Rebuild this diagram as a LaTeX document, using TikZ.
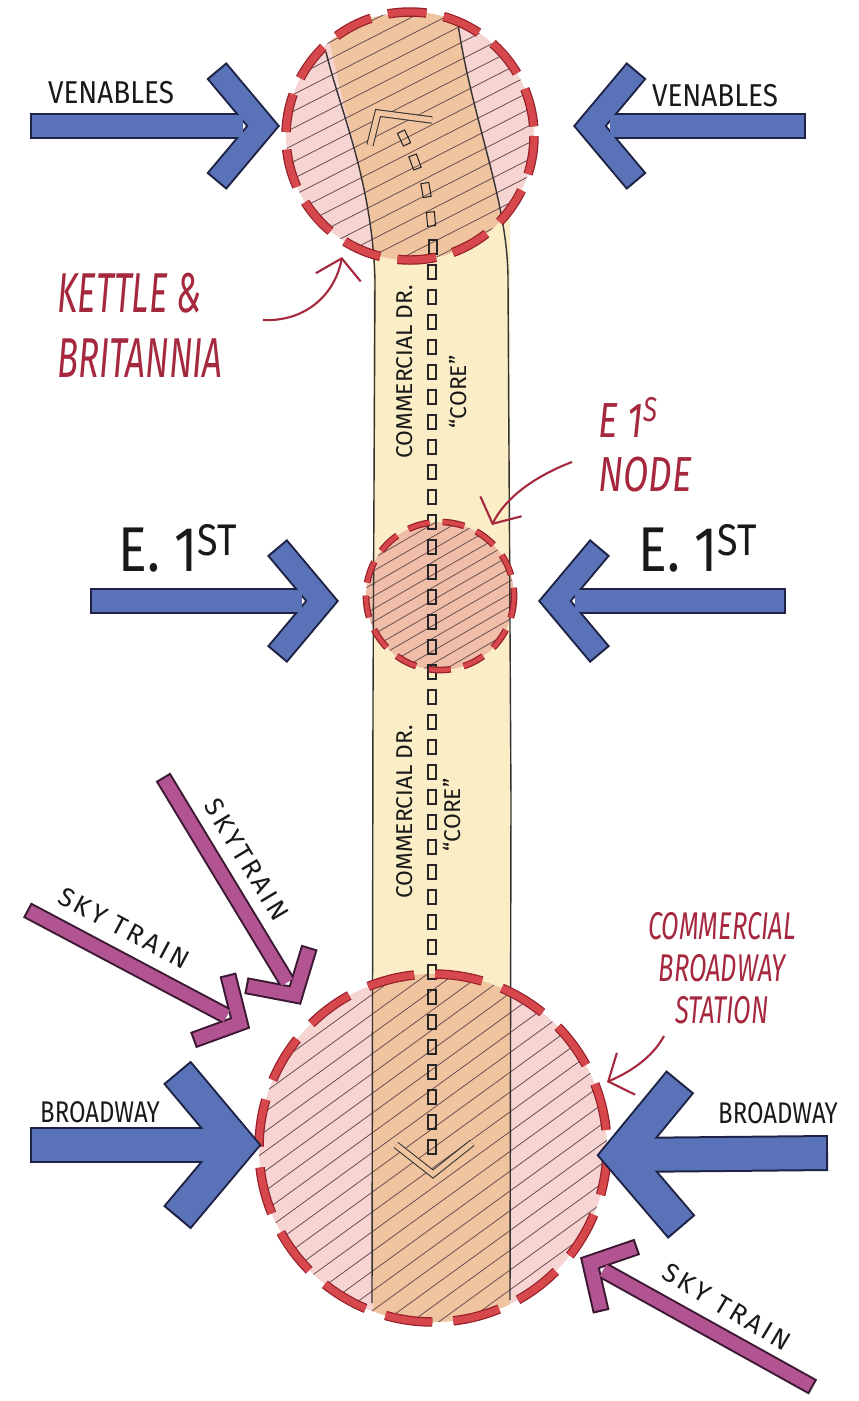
\documentclass[tikz,border=0pt]{standalone}
\usepackage{fontspec}
\setmainfont{Fira Sans}
\usepackage{graphicx}
\usetikzlibrary{arrows.meta,calc}

\definecolor{roadblue}{RGB}{90,114,184}
\definecolor{roadline}{RGB}{30,35,70}
\definecolor{trainpink}{RGB}{178,84,145}
\definecolor{trainline}{RGB}{60,25,50}
\definecolor{dashred}{RGB}{214,72,76}
\definecolor{dashdark}{RGB}{150,32,42}
\definecolor{notered}{RGB}{165,40,62}
\definecolor{zonepink}{RGB}{245,212,210}
\definecolor{zoneorange}{RGB}{241,196,160}
\definecolor{zonemid}{RGB}{240,190,168}
\definecolor{streetyellow}{RGB}{251,237,198}
\definecolor{hatchgray}{RGB}{105,78,80}

\newcommand{\squeeze}[2]{\scalebox{#1}[1]{#2}}

\tikzset{
  hatch/.style={draw=hatchgray, line width=0.45pt},
  edgeline/.style={draw=black!80, line width=0.8pt},
  ticket/.style={draw=black!85, line width=0.6pt},
  chevron/.style={draw=black!80, line width=0.6pt, double=zoneorange, double distance=3pt, line join=miter},
  pointer/.style={notered, line width=1.2pt, -{Straight Barb[length=11pt,width=26pt,line width=1.2pt]}},
  roadlabel/.style={inner sep=0pt, text=black!90},
  trainlabel/.style={inner sep=0pt, text=black!90, font=\addfontfeature{LetterSpace=12}\fontsize{15}{18}\selectfont},
  notelabel/.style={inner sep=0pt, text=notered},
}

\begin{document}
\begin{tikzpicture}[x=0.02cm,y=-0.02cm]
  \useasboundingbox (0,0) rectangle (859,1401);
  % zone centres
  \coordinate (kettle) at (410,136);
  \coordinate (first) at (440,596);
  \coordinate (station) at (433,1148);

  % Commercial Drive
  \fill[streetyellow] (373,255) -- (373,1160) -- (511,1160) -- (510,205) -- cycle;

  % Kettle & Britannia
  \fill[zonepink] (kettle) circle (124);
  \begin{scope}
    \clip (kettle) circle (124);
    \fill[zoneorange] (326,20) .. controls (340,110) and (372,180) .. (375,280) -- (508,280) .. controls (508,200) and (470,120) .. (456,10) -- cycle;
    \begin{scope}[shift={(kettle)},rotate=27]
      \foreach \k in {-9,...,9} \draw[hatch] (-150,\k*15) -- (150,\k*15);
    \end{scope}
  \end{scope}

  % E 1st node
  \fill[zonemid] (first) circle (74);
  \begin{scope}
    \clip (first) circle (74);
    \begin{scope}[shift={(first)},rotate=30]
      \foreach \k in {-7,...,7} \draw[hatch] (-100,\k*11) -- (100,\k*11);
    \end{scope}
  \end{scope}

  % Commercial-Broadway station
  \fill[zonepink] (station) circle (174);
  \begin{scope}
    \clip (station) circle (174);
    \fill[zoneorange] (373,960) rectangle (510,1330);
    \begin{scope}[shift={(station)},rotate=36]
      \foreach \k in {-12,...,12} \draw[hatch] (-200,\k*16) -- (200,\k*16);
    \end{scope}
  \end{scope}

  % street edges
  \draw[edgeline] (326,52) .. controls (340,110) and (372,180) .. (375,280) -- (373,700) -- (372,1303);
  \draw[edgeline] (458,24) .. controls (472,120) and (508,200) .. (508,280) -- (511,800) -- (510,1300);

  % centre line
  \foreach \y in {272,297,...,1147}
    \draw[ticket] (428,\y-7) rectangle (436,\y+7);
  \foreach \x/\y/\r in {404/138/25,415/162/20,426/190/10,431/219/5,433/247/0}
    \draw[ticket, rotate around={\r:(\x,\y)}] (\x-4,\y-7) rectangle (\x+4,\y+7);
  \draw[chevron] (370,145) -- (378,113) -- (432,120);
  \draw[chevron] (396,1145) -- (433,1174) -- (472,1143);

  % zone outlines
  \foreach \c/\r/\on/\off/\w in {kettle/124/22/10/5.4, first/74/12.5/7.5/3.8, station/174/27/12/5.4}{
    \draw[dashdark, line width=\w pt, dash pattern=on \on pt off \off pt] (\c) circle (\r);
    \draw[dashred, line width=\w pt-1.4pt, dash pattern=on \on pt off \off pt] (\c) circle (\r);
  }

  % street arrows
  \coordinate (venWt) at (30,126);   \coordinate (venWh) at (263,126);
  \coordinate (venEt) at (806,126);  \coordinate (venEh) at (590,126);
  \coordinate (firWt) at (90,601);   \coordinate (firWh) at (322,601);
  \coordinate (firEt) at (786,601);  \coordinate (firEh) at (555,601);
  \coordinate (broWt) at (30,1145);  \coordinate (broWh) at (238,1145);
  \coordinate (broEt) at (828,1153); \coordinate (broEh) at (620,1155);
  \foreach \a/\b/\l/\w in {venWt/venWh/1.45cm/22, venEt/venEh/1.45cm/22, firWt/firWh/1.4cm/22, firEt/firEh/1.4cm/22, broWt/broWh/1.9cm/32, broEt/broEh/1.9cm/32}{
    \draw[roadline, line width={(\w+4)*0.02cm}] (\a) -- ($(\b)!0.4cm!(\a)$);
    \draw[roadline, line width={(\w+4)*0.02cm}, miter limit=10] ($(\b)!\l!50:(\a)$) -- (\b) -- ($(\b)!\l!-50:(\a)$);
    \draw[roadblue, line width={\w*0.02cm}, shorten <=1.2pt] (\a) -- ($(\b)!0.4cm!(\a)$);
    \draw[roadblue, line width={\w*0.02cm}, miter limit=10, shorten <=1.2pt, shorten >=1.2pt] ($(\b)!\l!50:(\a)$) -- (\b) -- ($(\b)!\l!-50:(\a)$);
  }

  % skytrain arrows
  \coordinate (skyNt) at (163,777); \coordinate (skyNh) at (295,995);
  \coordinate (skyWt) at (27,910);  \coordinate (skyWh) at (240,1023);
  \coordinate (skyEt) at (813,1387); \coordinate (skyEh) at (590,1263);
  \foreach \a/\b in {skyNt/skyNh, skyWt/skyWh, skyEt/skyEh}{
    \draw[trainline, line width=17*0.02cm] (\a) -- ($(\b)!0.3cm!(\a)$);
    \draw[trainline, line width=17*0.02cm, miter limit=10] ($(\b)!1cm!48:(\a)$) -- (\b) -- ($(\b)!1cm!-48:(\a)$);
    \draw[trainpink, line width=13*0.02cm, shorten <=1.2pt] (\a) -- ($(\b)!0.3cm!(\a)$);
    \draw[trainpink, line width=13*0.02cm, miter limit=10, shorten <=1.2pt, shorten >=1.2pt] ($(\b)!1cm!48:(\a)$) -- (\b) -- ($(\b)!1cm!-48:(\a)$);
  }

  % street names
  \node[roadlabel, font=\fontsize{18}{20}\selectfont] (venablesW) at (111,93) {\squeeze{0.88}{VENABLES}};
  \node[roadlabel, font=\fontsize{18}{20}\selectfont] (venablesE) at (715,96) {\squeeze{0.88}{VENABLES}};
  \node[roadlabel, font=\fontsize{36}{40}\selectfont] (firstW) at (178,548) {\squeeze{0.85}{E. 1\textsuperscript{ST}}};
  \node[roadlabel, font=\fontsize{36}{40}\selectfont] (firstE) at (698,548) {\squeeze{0.85}{E. 1\textsuperscript{ST}}};
  \node[roadlabel, font=\fontsize{17}{20}\selectfont] (broadwayW) at (100,1112) {\squeeze{0.8}{BROADWAY}};
  \node[roadlabel, font=\fontsize{17}{20}\selectfont] (broadwayE) at (778,1113) {\squeeze{0.8}{BROADWAY}};
  \node[trainlabel, rotate=-59] (skytrainN) at (247,860) {SKYTRAIN};
  \node[trainlabel, rotate=-28] (skytrainW) at (124,928) {SKY TRAIN};
  \node[trainlabel, rotate=-31] (skytrainE) at (727,1307) {SKY TRAIN};
  \node[roadlabel, font=\fontsize{13}{15}\selectfont, rotate=90] (driveN) at (405,372) {COMMERCIAL DR.};
  \node[roadlabel, font=\fontsize{13}{15}\selectfont, rotate=90] (coreN) at (458,392) {“CORE”};
  \node[roadlabel, font=\fontsize{13}{15}\selectfont, rotate=90] (driveS) at (405,812) {COMMERCIAL DR.};
  \node[roadlabel, font=\fontsize{13}{15}\selectfont, rotate=90] (coreS) at (452,815) {“CORE”};

  % notes
  \node[notelabel, font=\itshape\fontsize{32}{37}\selectfont, align=left] (kettleNote) at (140,325) {\squeeze{0.62}{KETTLE \&}\\\squeeze{0.62}{BRITANNIA}};
  \node[notelabel, font=\itshape\fontsize{28}{31}\selectfont, align=left] (nodeNote) at (645,445) {\squeeze{0.75}{E 1\textsuperscript{S}}\\\squeeze{0.75}{NODE}};
  \node[notelabel, font=\itshape\fontsize{22}{24}\selectfont, align=center] (stationNote) at (722,968) {\squeeze{0.66}{COMMERCIAL}\\\squeeze{0.66}{BROADWAY}\\\squeeze{0.66}{STATION}};

  \coordinate (kettleTail) at (263,320);   \coordinate (kettleTip) at (342,257);
  \coordinate (nodeTail) at (572,462);     \coordinate (nodeTip) at (492,525);
  \coordinate (stationTail) at (664,1036); \coordinate (stationTip) at (607,1082);
  \draw[pointer] (kettleTail) .. controls (305,322) and (335,295) .. (kettleTip);
  \draw[pointer] (nodeTail) .. controls (535,476) and (505,498) .. (nodeTip);
  \draw[pointer] (stationTail) .. controls (652,1058) and (630,1072) .. (stationTip);
\end{tikzpicture}
\end{document}
